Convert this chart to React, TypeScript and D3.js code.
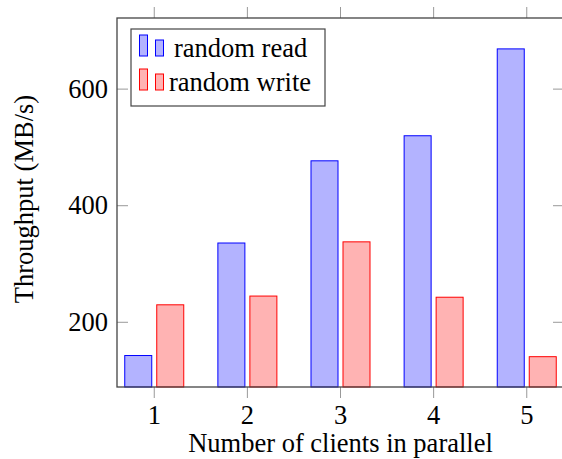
import { useEffect, useRef } from "react"
import * as d3 from "d3"

const clients = [1, 2, 3, 4, 5]
const randomRead = [143, 336, 477, 520, 669]
const randomWrite = [230, 245, 338, 243, 141]
const yTicks = [200, 400, 600]
const seriesNames = ["random read", "random write"]

const W = 562
const H = 459
const FONT = "Liberation Serif"

export default function App() {
  const svgRef = useRef<SVGSVGElement>(null)

  useEffect(() => {
    if (!svgRef.current) return
    const svg = d3.select(svgRef.current)
    svg.selectAll("*").remove()

    const margin = { top: 18, right: -2, bottom: 72, left: 117 }
    const width = W - margin.left - margin.right
    const height = H - margin.top - margin.bottom

    const x = d3.scaleLinear().domain([0.6, 5.4]).range([0, width])
    const y = d3.scaleLinear().domain([89, 722]).range([height, 0])

    const g = svg.append("g").attr("transform", `translate(${margin.left},${margin.top})`)

    const barW = 27
    const offset = 16
    const series = [
      { values: randomRead, dx: -offset, fill: "#b3b3ff", stroke: "#0000ff" },
      { values: randomWrite, dx: offset, fill: "#ffb3b3", stroke: "#ff0000" },
    ]

    // Bars
    series.forEach((s) => {
      g.append("g")
        .selectAll("rect")
        .data(clients)
        .enter()
        .append("rect")
        .attr("x", (d) => x(d) + s.dx - barW / 2)
        .attr("y", (d, i) => y(s.values[i]))
        .attr("width", barW)
        .attr("height", (d, i) => height - y(s.values[i]))
        .attr("fill", s.fill)
        .attr("stroke", s.stroke)
        .attr("stroke-width", 1)
    })

    // Ticks
    const tickLen = 11
    clients.forEach((c) => {
      g.append("line")
        .attr("x1", x(c)).attr("x2", x(c))
        .attr("y1", height).attr("y2", height + tickLen)
        .attr("stroke", "#999").attr("stroke-width", 1)
      g.append("line")
        .attr("x1", x(c)).attr("x2", x(c))
        .attr("y1", 0).attr("y2", -tickLen)
        .attr("stroke", "#999").attr("stroke-width", 1)
      g.append("text")
        .attr("x", x(c))
        .attr("y", height + 37)
        .attr("text-anchor", "middle")
        .style("font-family", FONT)
        .style("font-size", "26.5px")
        .attr("fill", "#000")
        .text(c)
    })

    yTicks.forEach((t) => {
      g.append("line")
        .attr("x1", 0).attr("x2", tickLen)
        .attr("y1", y(t)).attr("y2", y(t))
        .attr("stroke", "#999").attr("stroke-width", 1)
      g.append("line")
        .attr("x1", width).attr("x2", width - tickLen)
        .attr("y1", y(t)).attr("y2", y(t))
        .attr("stroke", "#999").attr("stroke-width", 1)
      g.append("text")
        .attr("x", -9)
        .attr("y", y(t))
        .attr("dy", "0.33em")
        .attr("text-anchor", "end")
        .style("font-family", FONT)
        .style("font-size", "26.5px")
        .attr("fill", "#000")
        .text(t)
    })

    // Axis box
    g.append("rect")
      .attr("x", 0).attr("y", 0)
      .attr("width", width).attr("height", height)
      .attr("fill", "none")
      .attr("stroke", "#444")
      .attr("stroke-width", 1.3)

    // Axis titles
    g.append("text")
      .attr("x", width / 2)
      .attr("y", height + 65)
      .attr("text-anchor", "middle")
      .style("font-family", FONT)
      .style("font-size", "26.5px")
      .attr("fill", "#000")
      .text("Number of clients in parallel")

    svg.append("text")
      .attr("transform", `translate(33,199) rotate(-90)`)
      .attr("text-anchor", "middle")
      .style("font-family", FONT)
      .style("font-size", "26.5px")
      .attr("fill", "#000")
      .text("Throughput (MB/s)")

    // Legend
    const lg = svg.append("g").attr("transform", "translate(131,29)")
    lg.append("rect")
      .attr("width", 194).attr("height", 77)
      .attr("fill", "#fff")
      .attr("stroke", "#444")
      .attr("stroke-width", 1.2)

    const textX = [43, 38]
    series.forEach((s, i) => {
      const base = 27 + i * 34
      lg.append("rect")
        .attr("x", 8.5).attr("y", base - 21)
        .attr("width", 8).attr("height", 21)
        .attr("fill", s.fill).attr("stroke", s.stroke)
      lg.append("rect")
        .attr("x", 24.5).attr("y", base - 16)
        .attr("width", 8).attr("height", 16)
        .attr("fill", s.fill).attr("stroke", s.stroke)
      lg.append("text")
        .attr("x", textX[i])
        .attr("y", base + 1)
        .style("font-family", FONT)
        .style("font-size", "26.5px")
        .attr("fill", "#000")
        .text(seriesNames[i])
    })
  }, [])

  return (
    <svg
      ref={svgRef}
      width={W}
      height={H}
      style={{ position: "absolute", left: 0, top: 0, display: "block", background: "#fff" }}
    />
  )
}
